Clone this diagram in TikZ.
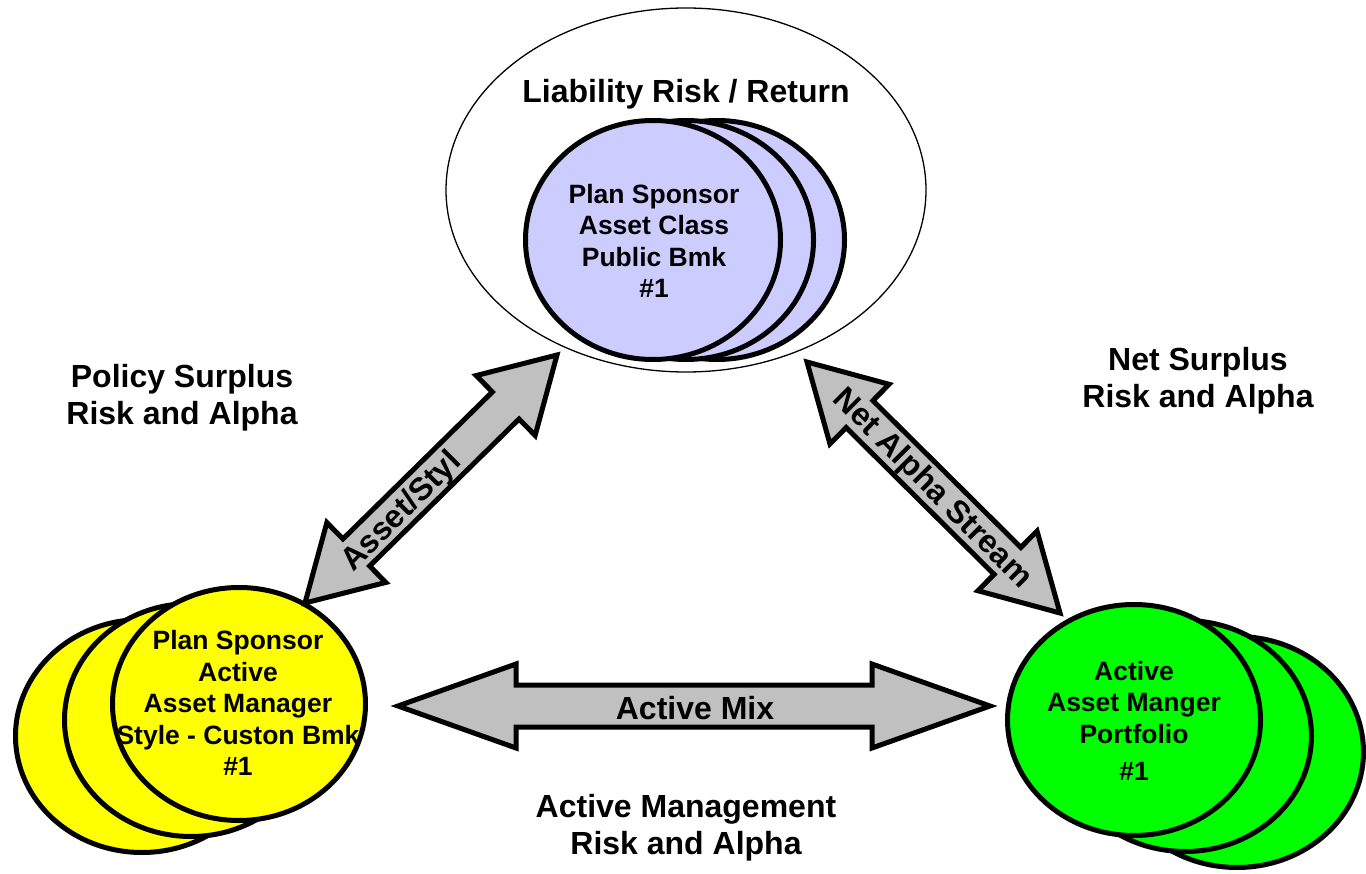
\documentclass[tikz,border=0pt]{standalone}
\usepackage{fontspec}
\setmainfont{Liberation Sans}
\usetikzlibrary{shapes.geometric,calc}
\definecolor{lav}{HTML}{CCCCFF}
\definecolor{yel}{HTML}{FFFF00}
\definecolor{grn}{HTML}{00FF00}
\definecolor{arrgray}{HTML}{C0C0C0}
% #1 tip A, #2 tip B, #3 head length, #4 head half width, #5 shaft half width
\newcommand\dblarrow[5]{%
  \coordinate (#1-h) at ($(#1)!#3!(#2)$);
  \coordinate (#2-h) at ($(#2)!#3!(#1)$);
  \draw[arrowbody] (#1) -- ($(#1-h)!#4!90:(#2)$) -- ($(#1-h)!#5!90:(#2)$)
    -- ($(#2-h)!#5!-90:(#1)$) -- ($(#2-h)!#4!-90:(#1)$) -- (#2)
    -- ($(#2-h)!#4!90:(#1)$) -- ($(#2-h)!#5!90:(#1)$)
    -- ($(#1-h)!#5!-90:(#2)$) -- ($(#1-h)!#4!-90:(#2)$) -- cycle;
}
\begin{document}
\begin{tikzpicture}[x={(1pt,0pt)},y={(0pt,-1pt)},
  disc/.style={ellipse, draw=black, line width=5pt, inner sep=0pt, outer sep=0pt},
  arrowbody/.style={draw=black, fill=arrgray, line width=5pt, line join=miter},
  lbl/.style={font=\bfseries\fontsize{32}{37}\selectfont, align=center, inner sep=0pt},
  intxt/.style={font=\bfseries\fontsize{26.5}{31.5}\selectfont, align=center, inner sep=0pt}]
\useasboundingbox (0,0) rectangle (1366,874);

% top: liability ellipse with plan sponsor discs
\node[ellipse, draw=black, line width=1.3pt, minimum width=480pt, minimum height=364pt, inner sep=0pt] (liab) at (686,190) {};
\node[lbl] (liabtxt) at (686,94) {Liability Risk / Return};
\node[disc, fill=lav, minimum width=255pt, minimum height=239pt] (p3) at (717,240) {};
\node[disc, fill=lav, minimum width=255pt, minimum height=239pt] (p2) at (686,240) {};
\node[disc, fill=lav, minimum width=255pt, minimum height=239pt] (p1) at (653,240) {};
\node[intxt] (p1txt) at (654,241) {Plan Sponsor\\Asset Class\\Public Bmk\\\#1};

% bottom left: yellow discs
\node[disc, fill=yel, minimum width=253pt, minimum height=233pt] (y3) at (142,736) {};
\node[disc, fill=yel, minimum width=253pt, minimum height=233pt] (y2) at (191,720) {};
\node[disc, fill=yel, minimum width=253pt, minimum height=233pt] (y1) at (239,704) {};
\node[intxt] (y1txt) at (238,703) {Plan Sponsor\\Active\\Asset Manager\\Style - Custon Bmk\\\#1};

% bottom right: green discs
\node[disc, fill=grn, minimum width=253pt, minimum height=231pt] (g3) at (1237,752) {};
\node[disc, fill=grn, minimum width=253pt, minimum height=231pt] (g2) at (1185,736) {};
\node[disc, fill=grn, minimum width=253pt, minimum height=231pt] (g1) at (1134,720) {};
\node[intxt] (g1txt) at (1134,721) {Active\\Asset Manger\\Portfolio\\[6pt]\#1};

% side labels
\node[lbl] (policy) at (182,398) {Policy Surplus\\Risk and Alpha};
\node[lbl] (netsur) at (1198,381) {Net Surplus\\Risk and Alpha};
\node[lbl] (actman) at (686,828) {Active Management\\Risk and Alpha};

% connectors
\coordinate (asA) at (305,603);
\coordinate (asB) at (557,355);
\coordinate (naA) at (807,362);
\coordinate (naB) at (1060,613);
\coordinate (amA) at (398,706);
\coordinate (amB) at (990,706);
\dblarrow{asA}{asB}{72pt}{42pt}{19pt}
\dblarrow{naA}{naB}{74pt}{42pt}{19pt}
\dblarrow{amA}{amB}{118pt}{42pt}{21pt}
\node[lbl, rotate=45] (astxt) at (402,512) {Asset/Styl};
\node[lbl, rotate=-45] (natxt) at (932,489) {Net Alpha Stream};
\node[lbl] (amtxt) at (695,708) {Active Mix};
\end{tikzpicture}
\end{document}
